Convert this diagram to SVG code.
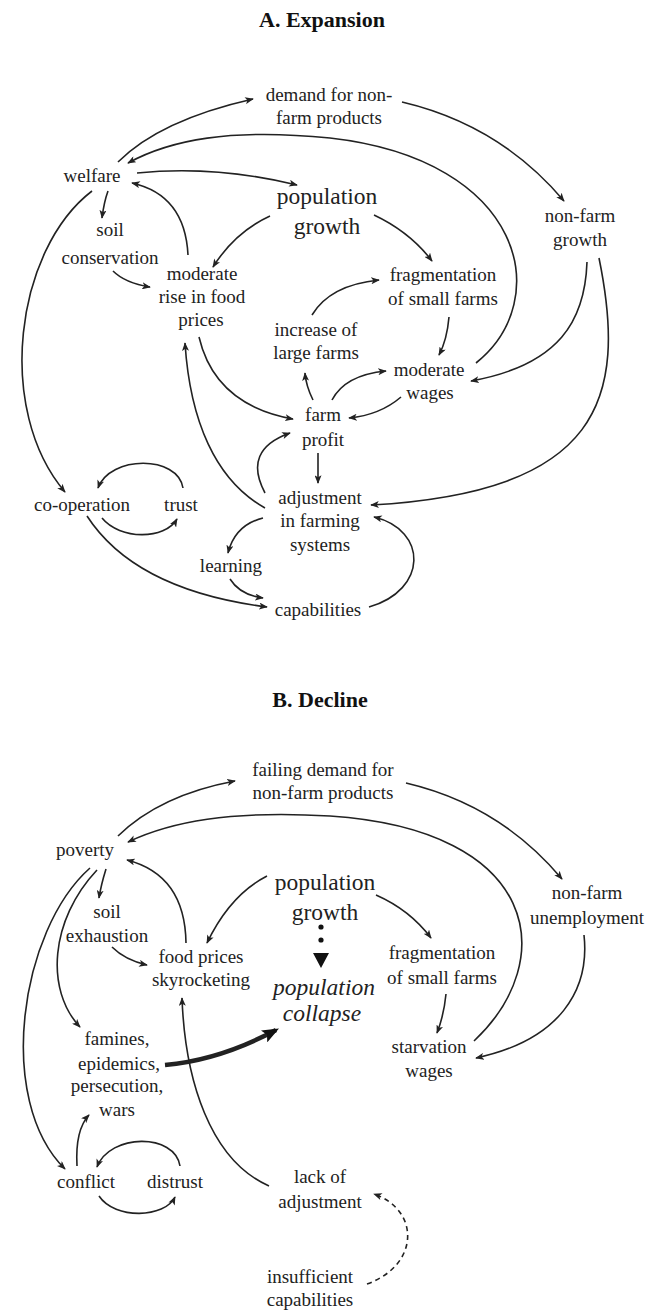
<svg xmlns="http://www.w3.org/2000/svg" width="649" height="1314" viewBox="0 0 649 1314">
<style>
text{font-family:"Liberation Serif","Times New Roman",serif;fill:#222;text-anchor:middle}
.t{font-size:19px}
.big{font-size:23.5px}
.it{font-size:23.5px;font-style:italic}
.title{font-size:22px;font-weight:bold;fill:#111}
.c path{fill:none;stroke:#222;stroke-width:1.6;marker-end:url(#ah)}
.c path.thick{stroke-width:4.5;marker-end:url(#ahb)}
.c path.dash{stroke-dasharray:5,4}
</style>
<defs>
<marker id="ah" viewBox="0 0 10 8" refX="9" refY="4" markerWidth="9" markerHeight="7" markerUnits="userSpaceOnUse" orient="auto"><path d="M0,0 L10,4 L0,8 L2.5,4 z" fill="#222"/></marker>
<marker id="ahb" viewBox="0 0 10 8" refX="8" refY="4" markerWidth="17" markerHeight="14" markerUnits="userSpaceOnUse" orient="auto"><path d="M0,0 L10,4 L0,8 L2,4 z" fill="#111"/></marker>
</defs>
<rect width="649" height="1314" fill="#fff"/>

<g id="connectors" class="c">
<!-- A. Expansion -->
<path d="M118,162 Q160,120 253,99"/>
<path d="M402,102 Q500,125 564,201"/>
<path d="M476,363 C555,300 525,160 330,138 C230,128 170,140 128,163"/>
<path d="M137,173 Q215,165 297,185"/>
<path d="M108,191 Q104,202 102,218"/>
<path d="M188,255 Q185,195 132,183"/>
<path d="M270,216 Q235,232 213,267"/>
<path d="M113,271 Q125,283 150,287"/>
<path d="M374,215 Q410,232 432,261"/>
<path d="M587,262 C585,320 560,365 471,381"/>
<path d="M599,258 C628,400 600,492 371,505"/>
<path d="M312,315 Q330,285 379,280"/>
<path d="M449,317 Q447,340 439,355"/>
<path d="M199,337 Q215,405 293,419"/>
<path d="M313,400 Q306,386 305,373"/>
<path d="M265,493 Q242,450 290,433"/>
<path d="M318,453 L318,483"/>
<path d="M265,508 C215,480 190,420 185,343"/>
<path d="M332,400 Q345,375 386,371"/>
<path d="M401,397 Q380,415 349,418"/>
<path d="M92,191 C15,250 -5,410 65,492"/>
<path d="M183,488 C178,455 110,455 98,488"/>
<path d="M102,518 C120,540 165,540 177,519"/>
<path d="M87,516 Q135,590 267,607"/>
<path d="M263,518 Q235,525 228,553"/>
<path d="M230,579 Q240,595 263,598"/>
<path d="M369,607 C428,590 428,530 374,517"/>
<!-- B. Decline -->
<path d="M118,836 Q160,795 235,781"/>
<path d="M406,783 Q500,805 562,879"/>
<path d="M474,1041 C560,960 540,830 330,816 C230,810 170,822 128,842"/>
<path d="M106,869 Q101,885 99,898"/>
<path d="M186,943 Q185,875 127,860"/>
<path d="M112,947 Q125,960 147,965"/>
<path d="M267,876 Q230,895 207,943"/>
<path d="M376,895 Q410,910 431,938"/>
<path d="M584,935 C590,990 560,1040 476,1058"/>
<path d="M446,994 Q444,1015 437,1033"/>
<path d="M97,870 C50,920 45,990 80,1027"/>
<path d="M90,868 C20,930 -5,1100 65,1169"/>
<path class="thick" d="M165,1065 Q220,1060 276,1030"/>
<path d="M269,1186 C210,1160 185,1080 182,998"/>
<path d="M77,1166 Q75,1130 89,1115"/>
<path d="M180,1166 C175,1133 110,1133 97,1167"/>
<path d="M99,1196 C115,1220 165,1218 175,1197"/>
<path class="dash" d="M367,1284 C420,1265 420,1210 374,1194"/>
<g id="pg-dots" fill="#111"><circle cx="321" cy="927" r="2.6"/><circle cx="321" cy="940" r="2.6"/><path d="M313,953 L329,953 L321,968 z" style="stroke:none;marker-end:none;fill:#111"/></g>
</g>

<text class="title" x="322" y="27">A. Expansion</text>
<g id="n-demand"><text class="t" x="329" y="101">demand for non-</text><text class="t" x="329" y="124">farm products</text></g>
<g id="n-welfare"><text class="t" x="92" y="182">welfare</text></g>
<g id="n-popA"><text class="big" x="327" y="204">population</text><text class="big" x="327" y="234">growth</text></g>
<g id="n-nonfarm"><text class="t" x="580" y="222">non-farm</text><text class="t" x="580" y="246">growth</text></g>
<g id="n-soilA"><text class="t" x="110" y="236">soil</text><text class="t" x="110" y="264">conservation</text></g>
<g id="n-rise"><text class="t" x="202" y="280">moderate</text><text class="t" x="202" y="303">rise in food</text><text class="t" x="201" y="326">prices</text></g>
<g id="n-fragA"><text class="t" x="443" y="281">fragmentation</text><text class="t" x="443" y="305">of small farms</text></g>
<g id="n-large"><text class="t" x="316" y="336">increase of</text><text class="t" x="316" y="359">large farms</text></g>
<g id="n-wages"><text class="t" x="429" y="376">moderate</text><text class="t" x="430" y="399">wages</text></g>
<g id="n-profit"><text class="t" x="323" y="421">farm</text><text class="t" x="323" y="446">profit</text></g>
<g id="n-adjust"><text class="t" x="320" y="504">adjustment</text><text class="t" x="320" y="527">in farming</text><text class="t" x="320" y="551">systems</text></g>
<g id="n-coop"><text class="t" x="82" y="511">co-operation</text></g>
<g id="n-trust"><text class="t" x="181" y="511">trust</text></g>
<g id="n-learning"><text class="t" x="231" y="572">learning</text></g>
<g id="n-capA"><text class="t" x="318" y="616">capabilities</text></g>

<text class="title" x="320" y="707">B. Decline</text>
<g id="n-failing"><text class="t" x="323" y="776">failing demand for</text><text class="t" x="323" y="799">non-farm products</text></g>
<g id="n-poverty"><text class="t" x="85" y="856">poverty</text></g>
<g id="n-popB"><text class="big" x="325" y="890">population</text><text class="big" x="325" y="920">growth</text></g>
<g id="n-unemp"><text class="t" x="587" y="899">non-farm</text><text class="t" x="587" y="924">unemployment</text></g>
<g id="n-soilB"><text class="t" x="107" y="918">soil</text><text class="t" x="107" y="942">exhaustion</text></g>
<g id="n-food"><text class="t" x="201" y="963">food prices</text><text class="t" x="201" y="986">skyrocketing</text></g>
<g id="n-fragB"><text class="t" x="442" y="959">fragmentation</text><text class="t" x="442" y="984">of small farms</text></g>
<g id="n-collapse"><text class="it" x="324" y="995">population</text><text class="it" x="322" y="1021">collapse</text></g>
<g id="n-starv"><text class="t" x="429" y="1053">starvation</text><text class="t" x="429" y="1077">wages</text></g>
<g id="n-famines"><text class="t" x="117" y="1045">famines,</text><text class="t" x="119" y="1070">epidemics,</text><text class="t" x="117" y="1092">persecution,</text><text class="t" x="117" y="1116">wars</text></g>
<g id="n-conflict"><text class="t" x="86" y="1188">conflict</text></g>
<g id="n-distrust"><text class="t" x="175" y="1188">distrust</text></g>
<g id="n-lack"><text class="t" x="320" y="1183">lack of</text><text class="t" x="320" y="1208">adjustment</text></g>
<g id="n-insuff"><text class="t" x="310" y="1283">insufficient</text><text class="t" x="310" y="1306">capabilities</text></g>
</svg>
